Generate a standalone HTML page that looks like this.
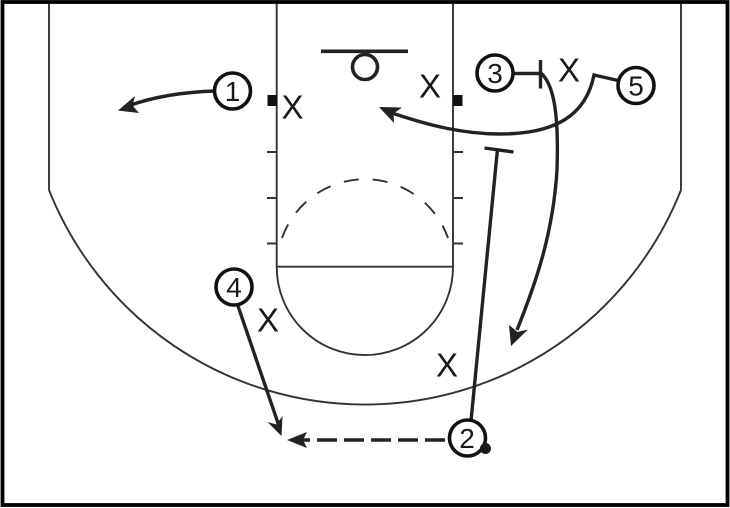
<!DOCTYPE html>
<html><head><meta charset="utf-8"><style>
html,body{margin:0;padding:0;background:#fff}
svg{display:block}
text{font-family:"Liberation Sans",sans-serif;fill:#1a1a1a;text-anchor:middle}
.c{fill:#fff;stroke:#111;stroke-width:3.6}
.t{fill:none;stroke:#222;stroke-width:3.4}
.l{fill:none;stroke:#333;stroke-width:1.9}
</style></head><body>
<svg width="730" height="508" viewBox="0 0 730 508" xmlns="http://www.w3.org/2000/svg">
<rect width="730" height="508" fill="#fff"/>
<rect x="2.500" y="2" width="725" height="503" fill="none" stroke="#000" stroke-width="3.800"/>
<!-- court -->
<path class="l" d="M49 4V190A340 340 0 0 0 681 190V4"/>
<path class="l" d="M276.700 4V267M453 4V267M276.700 266.700H453"/>
<path class="l" d="M276.700 267A88.150 88.150 0 0 0 453 267"/>
<path class="l" stroke-dasharray="15 14" d="M282 238A88 88 0 0 1 448 238"/>
<path class="l" d="M267 152H277M267 198H277M267 243.500H277M453 152H463M453 198H463M453 243.500H463"/>
<rect x="267.500" y="95" width="9.500" height="11" fill="#111"/>
<rect x="453" y="95" width="9.500" height="11" fill="#111"/>
<path d="M321 51.300H408" fill="none" stroke="#222" stroke-width="3.600"/>
<circle cx="365" cy="67" r="12.500" fill="none" stroke="#222" stroke-width="3.600"/>
<!-- defenders -->
<text x="292.500" y="118.500" font-size="33">X</text>
<text x="430" y="97.500" font-size="33">X</text>
<text x="569" y="81.500" font-size="33">X</text>
<text x="268" y="331.500" font-size="33">X</text>
<text x="447" y="376.500" font-size="33">X</text>
<!-- connectors -->
<path class="t" d="M216 91C180 92 150 98 128 106"/>
<polygon points="118,110.500 135,96 132.500,105.500 139,113" fill="#222"/>
<path class="t" d="M512 73.500H540.500M540.500 60V88.500"/>
<path class="t" d="M541 73C553 84 559 110 557 170C553 235 535 285 517 330"/>
<polygon points="511,346 509,325 517.500,332 528,329.500" fill="#222"/>
<path class="t" d="M618 80.500L594 75C586 115 556 134 500 134C460 134 425 124 392 113"/>
<polygon points="379,107 402,107.500 393.500,113.500 394,123" fill="#222"/>
<path class="t" d="M471 421L497.500 149M484.500 148L513.500 152"/>
<path class="t" d="M445 440H303" stroke-dasharray="20 7"/>
<polygon points="287,440 307,432 303,440 307,448" fill="#222"/>
<path class="t" d="M238 306L279 426"/>
<polygon points="281.500,436 267.500,422 276.500,424.500 282.500,416" fill="#222"/>
<!-- players -->
<circle class="c" cx="232.500" cy="91" r="18"/><text x="232.500" y="101" font-size="28">1</text>
<circle class="c" cx="495" cy="73" r="18"/><text x="495" y="83" font-size="28">3</text>
<circle class="c" cx="636" cy="85.500" r="18"/><text x="636" y="95.500" font-size="28">5</text>
<circle class="c" cx="234" cy="287" r="18"/><text x="234" y="297" font-size="28">4</text>
<circle class="c" cx="467.500" cy="438" r="18"/><text x="467" y="448" font-size="28">2</text>
<circle cx="485.500" cy="448.500" r="5.500" fill="#1a1a1a"/>
</svg>
</body></html>
